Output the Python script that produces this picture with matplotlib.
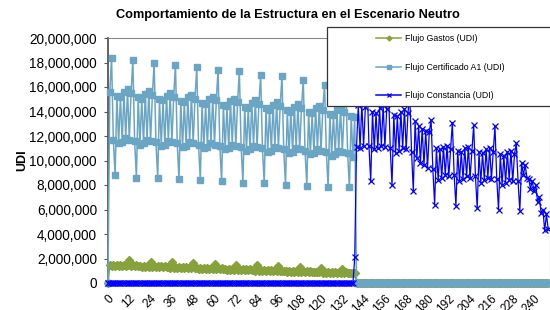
import numpy as np
import matplotlib.pyplot as plt
from matplotlib.lines import Line2D
from matplotlib.patches import Rectangle
from matplotlib.ticker import FuncFormatter

plt.rcParams['font.family'] = ['Liberation Sans', 'DejaVu Sans']

# month index 0..248, values in millions of UDI
months = np.arange(249)
tick_labels = [0, 12, 24, 36, 48, 60, 72, 84, 96, 108, 120, 132, 144, 156, 168, 180, 192, 204, 216, 228, 240]

flujo_gastos = [
    0.00, 1.50, 1.42, 1.49, 1.41, 1.48, 1.40, 1.47, 1.39, 1.46, 1.38, 1.45,
    1.85, 1.37, 1.44, 1.36, 1.43, 1.35, 1.42, 1.34, 1.41, 1.33, 1.40, 1.32,
    1.75, 1.31, 1.38, 1.30, 1.37, 1.29, 1.36, 1.28, 1.35, 1.27, 1.34, 1.26,
    1.68, 1.25, 1.32, 1.24, 1.31, 1.23, 1.30, 1.22, 1.29, 1.21, 1.28, 1.20,
    1.62, 1.19, 1.26, 1.18, 1.25, 1.17, 1.24, 1.16, 1.23, 1.15, 1.22, 1.14,
    1.56, 1.13, 1.20, 1.12, 1.19, 1.11, 1.18, 1.10, 1.17, 1.09, 1.16, 1.08,
    1.50, 1.07, 1.14, 1.06, 1.13, 1.05, 1.12, 1.04, 1.11, 1.03, 1.10, 1.02,
    1.45, 1.01, 1.08, 1.00, 1.07, 0.99, 1.06, 0.98, 1.05, 0.97, 1.04, 0.96,
    1.39, 0.95, 1.02, 0.94, 1.01, 0.93, 1.00, 0.92, 0.99, 0.91, 0.98, 0.90,
    1.32, 0.90, 0.96, 0.89, 0.95, 0.88, 0.94, 0.87, 0.93, 0.86, 0.92, 0.86,
    1.24, 0.85, 0.91, 0.84, 0.90, 0.84, 0.89, 0.83, 0.88, 0.82, 0.87, 0.82,
    1.15, 0.81, 0.86, 0.80, 0.85, 0.80, 0.84, 0.79,
] + [0.0] * 109

flujo_certificado = [
    0.0, 15.6,
    18.4, 11.7, 8.80, 15.3, 11.4, 15.2, 11.5, 15.6, 11.8, 15.8, 11.7, 15.5,
    18.2, 11.6, 8.60, 15.15, 11.3, 15.05, 11.4, 15.45, 11.7, 15.65, 11.6, 15.35,
    18.0, 11.5, 8.55, 15.0, 11.2, 14.9, 11.3, 15.3, 11.6, 15.5, 11.5, 15.2,
    17.8, 11.4, 8.45, 14.85, 11.1, 14.75, 11.2, 15.15, 11.5, 15.35, 11.4, 15.05,
    17.6, 11.3, 8.40, 14.7, 11.0, 14.6, 11.1, 15.0, 11.4, 15.2, 11.3, 14.9,
    17.4, 11.2, 8.30, 14.55, 10.9, 14.45, 11.0, 14.85, 11.3, 15.05, 11.2, 14.75,
    17.3, 11.1, 8.20, 14.4, 10.8, 14.3, 10.9, 14.7, 11.2, 14.9, 11.1, 14.6,
    17.0, 11.0, 8.15, 14.25, 10.7, 14.15, 10.8, 14.55, 11.1, 14.75, 11.0, 14.45,
    16.9, 10.9, 8.00, 14.1, 10.6, 14.0, 10.7, 14.4, 11.0, 14.6, 10.9, 14.3,
    16.6, 10.8, 7.95, 13.95, 10.5, 13.85, 10.6, 14.25, 10.9, 14.45, 10.8, 14.15,
    16.2, 10.7, 7.85, 13.8, 10.4, 13.7, 10.5, 14.1, 10.8, 14.3, 10.7, 14.0,
    16.0, 10.6, 7.80, 13.65, 10.3, 13.55,
] + [0.0] * 109

flujo_constancia = [0.0] * 139 + [
    2.1, 11.1, 14.5, 11.0, 14.6, 11.2, 14.4,
    16.5, 11.2, 8.3, 14.0, 10.9, 13.9, 11.0, 14.3, 11.2, 14.5, 11.1, 14.2,
    16.0, 11.0, 8.0, 13.7, 10.6, 13.6, 10.8, 14.0, 11.0, 14.2, 10.9, 13.9,
    15.3, 10.7, 7.5, 13.2, 10.2, 12.8, 9.8, 12.6, 9.6, 12.4, 9.4, 12.3,
    13.3, 9.3, 6.4, 11.0, 8.4, 10.9, 8.6, 11.1, 8.8, 11.2, 8.7, 10.9,
    13.1, 8.8, 6.3, 10.8, 8.3, 10.7, 8.5, 11.0, 8.7, 11.1, 8.6, 10.8,
    12.9, 8.7, 6.1, 10.7, 8.2, 10.6, 8.4, 10.9, 8.6, 11.0, 8.5, 10.7,
    12.8, 8.5, 6.0, 10.5, 8.0, 10.4, 8.2, 10.7, 8.4, 10.8, 8.3, 10.5,
    11.4, 8.3, 5.9, 9.8, 8.8, 9.6, 8.6, 8.5, 7.7, 8.3, 7.5, 8.0,
    6.6, 7.0, 5.7, 6.0, 4.3, 5.6, 4.4,
]

c_gastos = '#87a23c'
c_cert = '#6aa5c4'
c_const = '#0000ff'

fig = plt.figure(figsize=(5.5, 3.1), dpi=100)
ax = fig.add_axes([108 / 550, 27 / 310, 442 / 550, 245 / 310])

ax.plot(months, np.array(flujo_gastos) * 1e6, color=c_gastos, lw=1.2,
        marker='D', ms=3.9, clip_on=False, zorder=3)
ax.plot(months, np.array(flujo_certificado) * 1e6, color=c_cert, lw=1.1,
        marker='s', ms=4.6, clip_on=False, zorder=4)
ax.plot(months, np.array(flujo_constancia) * 1e6, color=c_const, lw=0.9,
        marker='x', ms=4.2, mew=0.9, clip_on=False, zorder=5)

ax.set_xlim(0, 249)
ax.set_ylim(0, 20e6)
ax.set_yticks(np.arange(0, 20e6 + 1, 2e6))
ax.yaxis.set_major_formatter(FuncFormatter(lambda v, p: f'{v:,.0f}'))
ax.tick_params(axis='y', labelsize=9.8, length=3, pad=5, color='#555555')
ax.set_xticks(tick_labels)
ax.set_xticklabels([str(t) for t in tick_labels], rotation=45, ha='right',
                   va='top', rotation_mode='anchor', fontsize=8.5)
ax.tick_params(axis='x', length=2, pad=5, color='#888888')
ax.set_ylabel('UDI', fontsize=9, fontweight='bold')
ax.yaxis.set_label_coords(-0.18, 0.5)

for s in ['top', 'right']:
    ax.spines[s].set_color('#888888')
    ax.spines[s].set_linewidth(0.8)
ax.spines['left'].set_color('#555555')
ax.spines['left'].set_linewidth(1.3)
ax.spines['bottom'].set_color('#555555')

fig.text(288 / 550, 1 - 15 / 310, 'Comportamiento de la Estructura en el Escenario Neutro',
         ha='center', va='center', fontsize=9.2, fontweight='bold')

# legend box sits over the plot, running off the right edge
box = Rectangle((327 / 550, 1 - 106 / 310), 240 / 550, 79 / 310, transform=fig.transFigure,
                facecolor='white', edgecolor='#333333', lw=0.9, zorder=10)
fig.add_artist(box)
handles = [
    Line2D([], [], color=c_gastos, lw=1.1, marker='D', ms=2.5),
    Line2D([], [], color=c_cert, lw=1.1, marker='s', ms=3),
    Line2D([], [], color=c_const, lw=1.1, marker='x', ms=3, mew=0.9),
]
labels = ['Flujo Gastos (UDI)', 'Flujo Certificado A1 (UDI)', 'Flujo Constancia (UDI)']
leg = fig.legend(handles, labels, loc='upper left', bbox_to_anchor=(376 / 550, 1 - 34 / 310),
                 frameon=False, fontsize=6.3, handlelength=2.9, handletextpad=0.4,
                 labelspacing=2.25, borderpad=0, borderaxespad=0)
leg.set_zorder(11)

fig.savefig('out.png', dpi=100)
